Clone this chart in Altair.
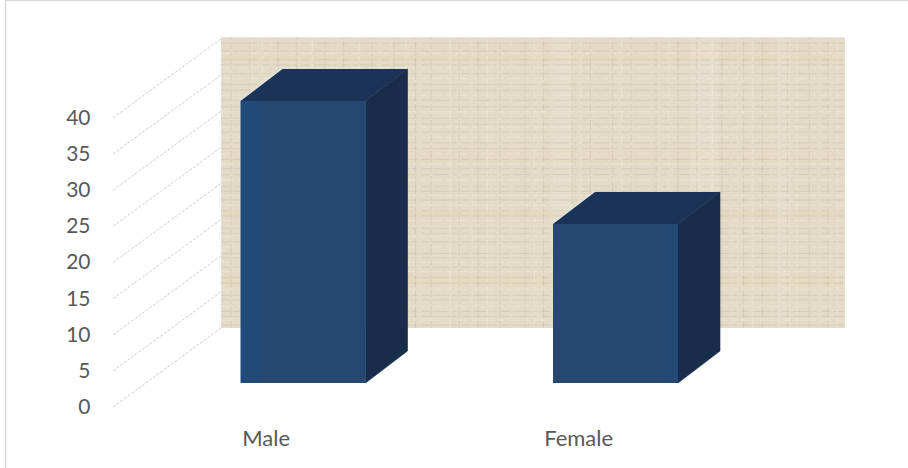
import altair as alt
import pandas as pd

# Survey counts by gender
categories = ["Male", "Female"]
values = [39, 22]
tick_values = [0, 5, 10, 15, 20, 25, 30, 35, 40]

# Weave threads across the back wall, in wall-relative units
weft_dark = [0.4, 1.6, 2.3, 3.9, 4.5, 6.2, 7.0, 8.4, 9.7, 10.3, 11.9, 13.1, 13.8, 15.5, 16.2, 17.7, 18.9,
             19.6, 21.2, 22.0, 23.3, 24.8, 25.6, 27.1, 28.2, 29.0, 30.6, 31.5, 32.9, 33.7, 35.2, 36.4, 37.1, 38.3, 39.4]
weft_light = [1.1, 3.0, 5.3, 7.8, 9.1, 11.2, 12.6, 14.9, 17.0, 18.3, 20.5, 22.7, 24.1, 26.4, 27.8, 29.9, 32.2, 34.5, 36.0, 38.0]
warp_dark = [-0.23, -0.17, -0.08, -0.02, 0.07, 0.13, 0.22, 0.29, 0.36, 0.41, 0.5, 0.56, 0.63, 0.71, 0.77, 0.86,
             0.92, 0.99, 1.05, 1.13, 1.2, 1.26, 1.34, 1.41, 1.47, 1.55, 1.62, 1.68]
warp_light = [-0.13, 0.03, 0.18, 0.33, 0.47, 0.59, 0.74, 0.89, 1.02, 1.17, 1.31, 1.44, 1.58, 1.71]
# Warmer and paler cloth bands, as wall-relative spans
warm_bands = [(37.0, 39.0), (23.0, 24.6), (14.5, 16.0), (6.0, 7.5)]
pale_slots = [(0.8, 0.86), (1.24, 1.33), (1.52, 1.56)]

# Projection of the pseudo-3D box, in axis units
PX_PER_UNIT_Y = 7.23
PX_PER_SLOT = 312.5
W, H = 908, 468
ZERO_X, ZERO_Y = 303.0, 407.0
BAR_HALF = 0.2
BAR_DX = 42 / PX_PER_SLOT
BAR_DY = 32 / PX_PER_UNIT_Y
BASE_LIFT = 24 / PX_PER_UNIT_Y
WALL_DX = 108 / PX_PER_SLOT
WALL_DY = 79 / PX_PER_UNIT_Y
WALL_LEFT = -0.262
WALL_RIGHT = 1.734
TOP = 40.2
TICK_FONT_SIZE = 21
CATEGORY_FONT_SIZE = 22

x_scale = alt.Scale(domain=[-ZERO_X / PX_PER_SLOT, (W - ZERO_X) / PX_PER_SLOT], nice=False, zero=False)
y_scale = alt.Scale(domain=[(ZERO_Y - H) / PX_PER_UNIT_Y, ZERO_Y / PX_PER_UNIT_Y], nice=False, zero=False)

X = alt.X("x:Q", scale=x_scale, axis=None)
Y = alt.Y("y:Q", scale=y_scale, axis=None)


def front_fill(stops):
    return alt.Gradient(gradient="linear", x1=0, x2=1, y1=0, y2=0,
                        stops=[alt.GradientStop(offset=o, color=c) for o, c in stops])


FRONT_FILLS = [
    front_fill([(0, "#1f4a7c"), (0.1, "#214a79"), (0.2, "#26476f"), (1, "#26476f")]),
    front_fill([(0, "#26476f"), (0.78, "#26476f"), (1, "#224a77")]),
]


def h_threads(levels, color, opacity, width, dash):
    df = pd.DataFrame({"y": [WALL_DY + v for v in levels], "x": WALL_LEFT, "x2": WALL_RIGHT})
    return alt.Chart(df).mark_rule(color=color, opacity=opacity, strokeWidth=width, strokeDash=dash).encode(
        x=X, x2="x2:Q", y=Y)


def v_threads(slots, color, opacity, width, dash):
    df = pd.DataFrame({"x": slots, "y": WALL_DY, "y2": WALL_DY + TOP})
    return alt.Chart(df).mark_rule(color=color, opacity=opacity, strokeWidth=width, strokeDash=dash).encode(
        x=X, y=Y, y2="y2:Q")


# Back wall and its weave
wall_df = pd.DataFrame({"x": [WALL_LEFT], "x2": [WALL_RIGHT],
                        "y": [WALL_DY], "y2": [WALL_DY + TOP]})
wall = alt.Chart(wall_df).mark_rect(color="#e3dbc8").encode(x=X, x2="x2:Q", y=Y, y2="y2:Q")
warm = alt.Chart(pd.DataFrame({
    "y": [WALL_DY + a for a, _ in warm_bands], "y2": [WALL_DY + b for _, b in warm_bands],
    "x": WALL_LEFT, "x2": WALL_RIGHT,
})).mark_rect(color="#e8d9ad", opacity=0.18).encode(x=X, x2="x2:Q", y=Y, y2="y2:Q")
pale = alt.Chart(pd.DataFrame({
    "x": [a for a, _ in pale_slots], "x2": [b for _, b in pale_slots],
    "y": WALL_DY, "y2": WALL_DY + TOP,
})).mark_rect(color="#f0e9dc", opacity=0.22).encode(x=X, x2="x2:Q", y=Y, y2="y2:Q")
weft_d = h_threads(weft_dark, "#a89c80", 0.22, 1, [9, 3, 17, 2, 5, 4])
weft_l = h_threads(weft_light, "#f4efe4", 0.45, 1, [13, 4, 6, 3])
warp_d = v_threads(warp_dark, "#a89c80", 0.2, 1, [7, 3, 12, 2, 4, 3])
warp_l = v_threads(warp_light, "#f4efe4", 0.4, 1.2, [11, 3, 5, 4])

# Slanted gridlines running from the front of the floor to the wall
grid_df = pd.DataFrame({"x": WALL_LEFT - WALL_DX, "x2": WALL_LEFT,
                        "y": tick_values, "y2": [v + WALL_DY for v in tick_values]})
grid = alt.Chart(grid_df).mark_rule(color="#cfcfcf", strokeWidth=1, strokeDash=[3, 1.5]).encode(
    x=X, x2="x2:Q", y=Y, y2="y2:Q")

# Tick labels
ticks_df = pd.DataFrame({"y": [v - 0.14 for v in tick_values], "label": [str(v) for v in tick_values]})
tick_text = alt.Chart(ticks_df).mark_text(
    align="right", baseline="middle", font="Lato", fontSize=TICK_FONT_SIZE, color="#595959"
).encode(x=alt.value(90.5), y=Y, text="label:N")

# One box per category: side face, top face, front face
side_rows, top_rows, edge_rows, label_rows = [], [], [], []
for i, (cat, val) in enumerate(zip(categories, values)):
    left, right = i - BAR_HALF, i + BAR_HALF
    low, high = BASE_LIFT, BASE_LIFT + val
    side_rows += [
        {"cat": cat, "x": right, "y": low, "y2": high},
        {"cat": cat, "x": right + BAR_DX, "y": low + BAR_DY, "y2": high + BAR_DY},
    ]
    top_rows += [
        {"cat": cat, "y": high, "x": left, "x2": right},
        {"cat": cat, "y": high + BAR_DY, "x": left + BAR_DX, "x2": right + BAR_DX},
    ]
    edge_rows.append({"cat": cat, "x": left, "x2": left + BAR_DX, "y": high, "y2": high + BAR_DY})
    label_rows.append({"cat": cat, "x": i - 0.118, "y": -4.4})

side = alt.Chart(pd.DataFrame(side_rows)).mark_area(
    color="#172d4a", stroke="#172d4a", strokeWidth=0.6, opacity=1).encode(
    x=X, y=Y, y2="y2:Q", detail="cat:N")
top = alt.Chart(pd.DataFrame(top_rows)).mark_area(color="#1a3357", orient="horizontal").encode(
    y=Y, x=X, x2="x2:Q", detail="cat:N")
fronts = [
    alt.Chart(pd.DataFrame({"x": [i - BAR_HALF], "x2": [i + BAR_HALF], "y": [BASE_LIFT], "y2": [BASE_LIFT + v]}))
    .mark_rect(fill=FRONT_FILLS[i]).encode(x=X, x2="x2:Q", y=Y, y2="y2:Q")
    for i, v in enumerate(values)
]
edge = alt.Chart(pd.DataFrame(edge_rows)).mark_rule(color="#dfe8e4", strokeWidth=3, opacity=0.75).encode(
    x=X, x2="x2:Q", y=Y, y2="y2:Q")
cat_text = alt.Chart(pd.DataFrame(label_rows)).mark_text(
    align="center", baseline="middle", font="Lato", fontSize=CATEGORY_FONT_SIZE, color="#595959"
).encode(x=X, y=Y, text="cat:N")

# Thin frame on the left and top edges
frame_left = alt.Chart(pd.DataFrame({"a": [0]})).mark_rule(color="#d9d9d9", strokeWidth=1.5).encode(
    x=alt.value(5.5), y=alt.value(0), y2=alt.value(H))
frame_top = alt.Chart(pd.DataFrame({"a": [0]})).mark_rule(color="#d9d9d9", strokeWidth=1.5).encode(
    y=alt.value(0.5), x=alt.value(5), x2=alt.value(W))

chart = alt.layer(
    wall, warm, pale, weft_d, weft_l, warp_d, warp_l, grid, tick_text, edge, top, side, *fronts,
    cat_text, frame_left, frame_top
).properties(
    width=W, height=H, padding=0, autosize=alt.AutoSizeParams(type="none"), background="white"
).configure_view(stroke=None)

chart.save("out.html", embed_options={"renderer": "svg", "actions": False})
